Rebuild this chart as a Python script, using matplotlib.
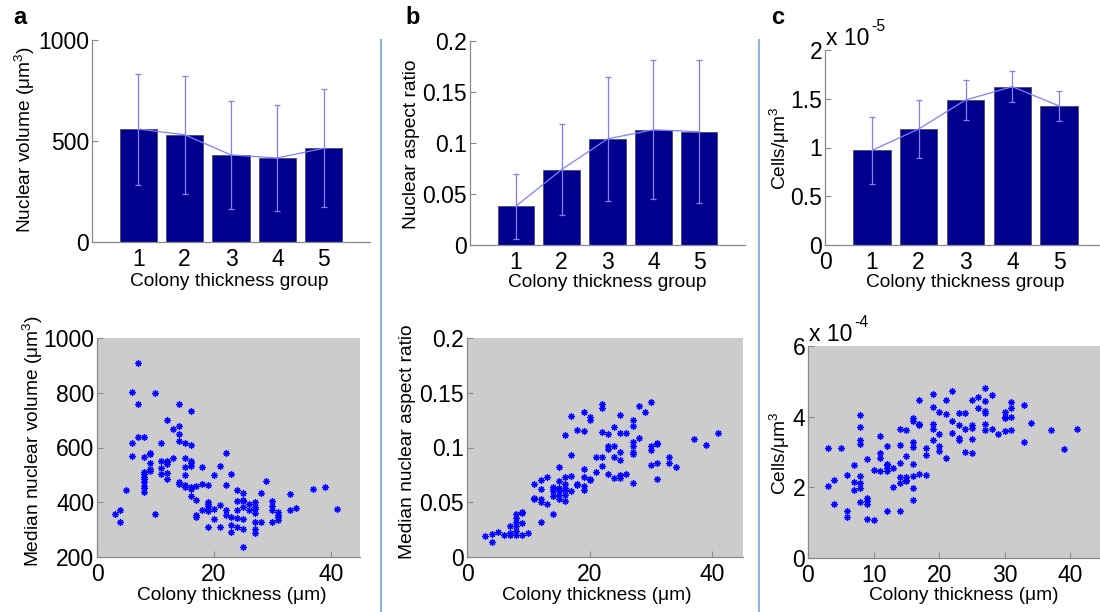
import matplotlib
matplotlib.use('Agg')
import matplotlib.pyplot as plt
from matplotlib.lines import Line2D

plt.rcParams['font.family'] = ['Liberation Sans', 'DejaVu Sans']
plt.rcParams['mathtext.fontset'] = 'custom'
plt.rcParams['mathtext.rm'] = 'Liberation Sans'
plt.rcParams['mathtext.it'] = 'Liberation Sans:italic'
plt.rcParams['mathtext.default'] = 'regular'

# ---------------- data ----------------
groups = [1, 2, 3, 4, 5]
vol_mean = [559, 531, 431, 416, 464]
vol_err = [275, 293, 266, 262, 292]
ar_mean = [0.038, 0.074, 0.104, 0.113, 0.111]
ar_err = [0.032, 0.045, 0.061, 0.068, 0.070]
dens_mean_e5 = [0.97, 1.19, 1.487, 1.624, 1.426]   # x 1e-5 cells/um^3
dens_err_e5 = [0.34, 0.30, 0.205, 0.157, 0.156]

vol_x = [7, 6, 10, 7, 14, 16, 12, 14, 13, 14, 7, 8, 6, 11, 14, 15, 16, 9, 9, 6, 8, 13, 15, 22, 9, 11,
         12, 12, 12, 16, 16, 16, 9, 9, 11, 15, 18, 21, 8, 8, 8, 8, 8, 8, 8, 8, 11, 12, 12, 15, 20, 23,
         14, 14, 15, 15, 16, 16, 17, 18, 19, 22, 29, 5, 24, 25, 28, 33, 37, 39, 16, 17, 19, 19, 19, 19,
         19, 21, 24, 25, 25, 25, 26, 27, 27, 27, 27, 27, 27, 27, 26, 30, 30, 30, 31, 31, 31, 31, 34, 33,
         41, 3, 4, 4, 10, 17, 17, 18, 20, 20, 22, 22, 23, 24, 24, 25, 25, 23, 23, 24, 19, 21, 28, 30, 25]
vol_y = [908, 802, 799, 758, 758, 734, 701, 680, 668, 648, 640, 640, 617, 617, 622, 618, 608, 580, 575,
         568, 566, 562, 562, 579, 543, 549, 552, 546, 539, 550, 544, 534, 522, 515, 526, 527, 527, 534,
         511, 502, 494, 484, 473, 461, 451, 438, 505, 507, 484, 499, 499, 505, 474, 468, 463, 454, 454,
         450, 460, 468, 462, 462, 476, 444, 446, 434, 435, 429, 450, 455, 424, 410, 402, 394, 385, 377,
         367, 390, 404, 410, 405, 383, 394, 401, 384, 376, 360, 327, 302, 287, 373, 404, 385, 370, 363,
         354, 345, 334, 379, 371, 376, 357, 371, 329, 357, 352, 345, 371, 374, 339, 372, 354, 346, 373,
         344, 337, 304, 317, 290, 311, 311, 310, 328, 327, 237]

ar_x = [3, 4, 4, 5, 6, 7, 7, 7, 8, 8, 8, 8, 8, 8, 9, 9, 9, 9, 10, 11, 11, 11, 12, 12, 12, 12, 12, 13, 13,
        14, 14, 14, 14, 14, 15, 15, 15, 15, 15, 15, 16, 16, 16, 16, 16, 16, 16, 17, 17, 17, 17, 18, 18,
        18, 19, 19, 19, 19, 19, 19, 20, 20, 20, 20, 21, 21, 22, 22, 22, 22, 22, 23, 23, 23, 23, 24, 24,
        24, 24, 25, 25, 25, 25, 25, 25, 26, 26, 27, 27, 27, 27, 27, 27, 27, 28, 28, 29, 30, 30, 30, 30,
        31, 31, 31, 31, 33, 33, 34, 37, 39, 41]
ar_y = [0.019, 0.014, 0.021, 0.023, 0.020, 0.0216, 0.0198, 0.028, 0.039, 0.036, 0.032, 0.028, 0.024,
        0.020, 0.041, 0.040, 0.031, 0.020, 0.0216, 0.054, 0.053, 0.067, 0.070, 0.062, 0.053, 0.050,
        0.032, 0.073, 0.0485, 0.064, 0.062, 0.060, 0.056, 0.039, 0.082, 0.069, 0.063, 0.060, 0.057,
        0.053, 0.111, 0.073, 0.067, 0.063, 0.061, 0.057, 0.051, 0.129, 0.093, 0.074, 0.060, 0.116,
        0.067, 0.066, 0.132, 0.115, 0.080, 0.073, 0.065, 0.061, 0.128, 0.125, 0.071, 0.070, 0.091,
        0.078, 0.140, 0.136, 0.114, 0.091, 0.083, 0.112, 0.101, 0.099, 0.076, 0.119, 0.101, 0.091,
        0.072, 0.130, 0.113, 0.096, 0.089, 0.075, 0.072, 0.113, 0.076, 0.125, 0.120, 0.105, 0.101,
        0.096, 0.094, 0.068, 0.138, 0.109, 0.132, 0.142, 0.101, 0.098, 0.084, 0.104, 0.103, 0.086,
        0.071, 0.091, 0.086, 0.082, 0.108, 0.102, 0.113]

dens_x = [3, 3, 4, 4, 5, 6, 6, 6, 7, 7, 7, 8, 8, 8, 8, 8, 8, 8, 8, 9, 9, 9, 9, 9, 10, 10, 11, 11, 11, 11,
          12, 12, 12, 12, 12, 12, 13, 13, 14, 14, 14, 14, 14, 14, 15, 15, 15, 15, 15, 16, 16, 16, 16, 16,
          16, 16, 16, 17, 17, 17, 17, 18, 18, 18, 19, 19, 19, 19, 19, 20, 20, 20, 20, 21, 21, 21, 22, 22,
          22, 23, 23, 23, 23, 24, 24, 24, 25, 25, 25, 25, 25, 26, 26, 27, 27, 27, 27, 27, 27, 28, 28, 29,
          30, 30, 30, 30, 31, 31, 31, 31, 33, 33, 34, 37, 39, 41]
dens_y_e4 = [3.10, 2.05, 2.20, 1.54, 3.12, 2.35, 1.34, 1.15, 2.64, 2.16, 1.92, 4.04, 3.72, 3.34, 3.22,
             2.33, 2.12, 1.98, 1.58, 2.80, 1.69, 1.60, 1.54, 1.11, 2.48, 1.07, 3.46, 2.97, 2.82, 2.45,
             3.18, 2.66, 2.63, 2.55, 2.46, 1.32, 2.55, 2.02, 3.66, 3.19, 2.70, 2.30, 2.12, 1.32, 3.63,
             2.89, 2.30, 2.20, 2.17, 3.96, 3.88, 3.29, 3.15, 2.65, 2.33, 1.97, 1.65, 4.48, 3.80, 3.76,
             2.37, 3.10, 2.91, 2.34, 4.64, 4.27, 3.78, 3.65, 3.33, 4.14, 3.52, 3.16, 3.02, 4.48, 4.08,
             2.84, 4.74, 3.89, 3.55, 4.10, 3.76, 3.40, 3.34, 4.11, 3.66, 3.00, 4.48, 3.76, 3.67, 3.37,
             2.98, 4.57, 4.25, 4.81, 4.43, 4.16, 4.11, 3.78, 3.63, 4.60, 3.64, 3.50, 4.14, 4.00, 3.95,
             3.59, 4.42, 4.24, 3.99, 3.63, 4.33, 3.29, 3.82, 3.61, 3.09, 3.64]

bar_labels = ['1', '2', '3', '4', '5']

# ---------------- figure ----------------
W, H = 1100, 612
fig = plt.figure(figsize=(W / 100, H / 100), dpi=100)
fig.patch.set_facecolor('white')


def ax_px(l, r, t, b):
    return fig.add_axes([l / W, 1 - b / H, (r - l) / W, (b - t) / H])


SPINE = '#8a8a8a'
BARC = (0, 0, 0.5625)
ERRC = (0.5, 0.5, 1.0)
TICK_FS = 16.5
LAB_FS = 13.8


def style(ax):
    for s in ['top', 'right']:
        ax.spines[s].set_visible(False)
    for s in ['left', 'bottom']:
        ax.spines[s].set_color(SPINE)
        ax.spines[s].set_linewidth(0.9)
    ax.tick_params(direction='in', length=4, width=0.8, color=SPINE,
                   labelsize=TICK_FS, labelcolor='black')
    ax.tick_params(axis='y', pad=2)
    ax.tick_params(axis='x', pad=4)


def bar_panel(ax, mean, err, xlim, ylim, yticks, ylabels, xticks, xlabels):
    ax.bar(groups, mean, width=0.8, color=BARC, edgecolor=(0.25, 0.25, 0.35), linewidth=0.5, zorder=2)
    ax.errorbar(groups, mean, yerr=err, color=ERRC, lw=0.9, elinewidth=0.9,
                capsize=2, capthick=0.9, zorder=3)
    ax.set_xlim(*xlim)
    ax.set_ylim(*ylim)
    ax.set_yticks(yticks)
    ax.set_yticklabels(ylabels)
    ax.set_xticks(xticks)
    ax.set_xticklabels(xlabels)
    style(ax)


def exp_label(ax, base, expo):
    t = ax.text(0.005, 1.0, base, transform=ax.transAxes, fontsize=TICK_FS, ha='left', va='bottom')
    ax.annotate(expo, xy=(1, 1), xycoords=t, xytext=(1, -5), textcoords='offset points',
                fontsize=TICK_FS * 0.68, ha='left', va='bottom')


# bar a
axa = ax_px(92, 370, 40, 242)
bar_panel(axa, vol_mean, vol_err, (0, 6), (0, 1000), [0, 500, 1000], ['0', '500', '1000'],
          groups, bar_labels)
# bar b
axb = ax_px(470, 745, 41, 245)
bar_panel(axb, ar_mean, ar_err, (0, 6), (0, 0.2), [0, 0.05, 0.1, 0.15, 0.2],
          ['0', '0.05', '0.1', '0.15', '0.2'], groups, bar_labels)
# bar c
axc = ax_px(825, 1106, 50, 245)
bar_panel(axc, dens_mean_e5, dens_err_e5, (0, 6), (0, 2), [0, 0.5, 1, 1.5, 2],
          ['0', '0.5', '1', '1.5', '2'], [0] + groups, ['0'] + bar_labels)
exp_label(axc, 'x 10', '-5')


def scatter_panel(ax, x, y, xlim, ylim, xticks, xlabels, yticks, ylabels):
    ax.set_facecolor('#cccccc')
    ax.plot(x, y, linestyle='none', marker='o', ms=5.5, mfc=(0.55, 0.55, 1.0), mec='none',
            alpha=0.45, zorder=2)
    ax.plot(x, y, linestyle='none', marker=(8, 2, 0), ms=4.5, mec='blue', mew=0.8, zorder=3)
    ax.set_xlim(*xlim)
    ax.set_ylim(*ylim)
    ax.set_xticks(xticks)
    ax.set_xticklabels(xlabels)
    ax.set_yticks(yticks)
    ax.set_yticklabels(ylabels)
    style(ax)


sa = ax_px(97, 360, 338, 557)
scatter_panel(sa, vol_x, vol_y, (0, 45), (200, 1000), [0, 20, 40], ['0', '20', '40'],
              [200, 400, 600, 800, 1000], ['200', '400', '600', '800', '1000'])
sb = ax_px(467, 743, 338, 557)
scatter_panel(sb, ar_x, ar_y, (0, 45), (0, 0.2), [0, 20, 40], ['0', '20', '40'],
              [0, 0.05, 0.1, 0.15, 0.2], ['0', '0.05', '0.1', '0.15', '0.2'])
sc = ax_px(808, 1103, 346, 558)
scatter_panel(sc, dens_x, dens_y_e4, (0, 45), (0, 6), [0, 10, 20, 30, 40],
              ['0', '10', '20', '30', '40'], [0, 2, 4, 6], ['0', '2', '4', '6'])
exp_label(sc, 'x 10', '-4')


def ftext(x, y, s, **kw):
    fig.text(x / W, 1 - y / H, s, **kw)


# y labels
ftext(25, 140, u'Nuclear volume (\u03bcm$^3$)', rotation=90, ha='center', va='center', fontsize=LAB_FS)
ftext(412, 144, 'Nuclear aspect ratio', rotation=90, ha='center', va='center', fontsize=LAB_FS)
ftext(780, 148, u'Cells/\u03bcm$^3$', rotation=90, ha='center', va='center', fontsize=LAB_FS)
ftext(33, 441, u'Median nuclear volume (\u03bcm$^3$)', rotation=90, ha='center', va='center', fontsize=LAB_FS)
ftext(408, 442, 'Median nuclear aspect ratio', rotation=90, ha='center', va='center', fontsize=LAB_FS)
ftext(780, 453, u'Cells/\u03bcm$^3$', rotation=90, ha='center', va='center', fontsize=LAB_FS)

# x labels
ftext(229, 286, 'Colony thickness group', ha='center', va='baseline', fontsize=LAB_FS)
ftext(607, 287, 'Colony thickness group', ha='center', va='baseline', fontsize=LAB_FS)
ftext(965, 287, 'Colony thickness group', ha='center', va='baseline', fontsize=LAB_FS)
ftext(232, 600, u'Colony thickness (\u03bcm)', ha='center', va='baseline', fontsize=LAB_FS)
ftext(597, 600, u'Colony thickness (\u03bcm)', ha='center', va='baseline', fontsize=LAB_FS)
ftext(964, 600, u'Colony thickness (\u03bcm)', ha='center', va='baseline', fontsize=LAB_FS)

# panel letters
ftext(20, 24, 'a', ha='center', va='baseline', fontsize=17, fontweight='bold')
ftext(413, 24, 'b', ha='center', va='baseline', fontsize=17, fontweight='bold')
ftext(778, 24, 'c', ha='center', va='baseline', fontsize=17, fontweight='bold')

# separator lines
for xs in [381, 759]:
    fig.add_artist(Line2D([xs / W, xs / W], [1 - 40 / H, 0], color='#8fb3df', lw=1.5))

fig.savefig('out.png', dpi=100)
